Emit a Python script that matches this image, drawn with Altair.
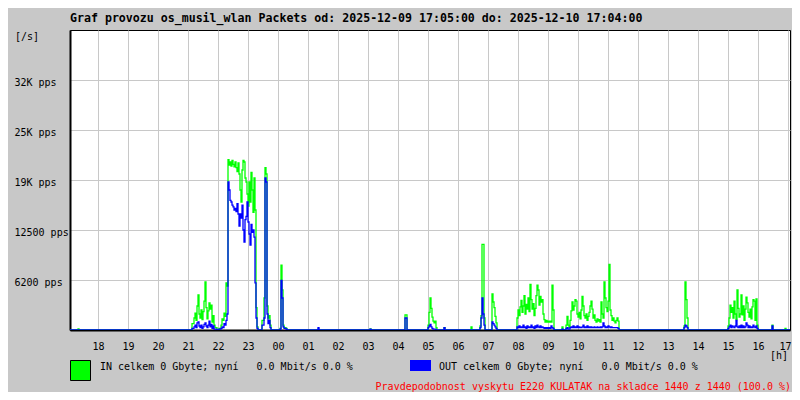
import altair as alt
import pandas as pd

# ---- data (minutes after 17:04, packets per second) ----
T = [0, 16, 18,
     240, 244, 248, 250, 252, 254, 256, 258, 260, 262, 264, 266, 268, 270, 272, 274, 276, 278, 280, 282, 284, 286, 288, 290, 294,
     298, 302, 304, 306, 308, 310, 312, 314,
     316, 318, 320, 322, 324, 326, 328, 330, 332, 334, 336, 338, 340, 342, 344, 346, 348, 350, 352, 354, 356, 358, 360, 362, 364,
     366, 368, 370, 372, 374, 376,
     384, 388, 390, 392, 394, 396, 398, 400, 402,
     420, 422, 424, 426, 428, 432, 434,
     496, 498, 600, 602,
     670, 674,
     716, 718, 720, 722, 724, 726, 728, 730, 732, 734, 748, 750, 802, 804,
     820, 822, 824, 826, 828, 830,
     844, 846, 848, 850, 852, 854,
     894, 896, 898, 900, 902, 904, 906, 908, 910, 912, 914, 916, 918, 920, 922, 924, 926, 928, 930, 932, 934, 936, 938, 940,
     942, 944, 946, 948, 950, 952, 954, 956, 958, 960, 962, 964, 966, 968,
     984, 986,
     992, 994, 996, 998, 1000, 1002, 1004, 1006, 1008, 1010, 1012, 1014, 1016, 1018, 1020, 1022, 1024, 1026, 1028, 1030, 1032,
     1034, 1036, 1038, 1040, 1042, 1044, 1046, 1048, 1050, 1052, 1054, 1056, 1058, 1060, 1062, 1064, 1066, 1068, 1070, 1072,
     1074, 1076, 1078, 1080, 1082, 1084, 1086, 1088, 1090, 1092, 1094, 1096, 1098,
     1228, 1230, 1232, 1234, 1236,
     1316, 1318, 1320, 1322, 1324, 1326, 1328, 1330, 1332, 1334, 1336, 1338, 1340, 1342, 1344, 1346, 1348, 1350, 1352, 1354,
     1356, 1358, 1360, 1362, 1364, 1366, 1368, 1370, 1372, 1374, 1376,
     1404, 1406, 1430, 1432, 1440]

IN = [0, 150, 0,
      0, 800, 1500, 2100, 1200, 3000, 4400, 2000, 1500, 2500, 1300, 2300, 3600, 6000, 2800, 1400, 2400, 3400, 2600, 3100, 1000, 1800, 600, 300, 0,
      200, 600, 1400, 1200, 2100, 1700, 5900, 5500,
      21300, 20600, 21000, 20500, 21200, 20700, 20400, 21000, 20300, 19800, 20900, 19500, 17500, 16000, 20000, 21200, 21000, 19000, 18500, 17000, 15500, 18500, 16000, 19700, 17500,
      14700, 19000, 15000, 2800, 400, 0,
      1200, 4000, 20300, 19500, 3000, 1500, 1800, 600, 0,
      200, 8100, 5000, 600, 300, 200, 0,
      100, 0, 150, 0,
      1900, 0,
      600, 2200, 4000, 2700, 1600, 1100, 900, 1100, 300, 0, 300, 0, 400, 0,
      500, 1800, 10700, 10700, 1500, 0,
      4500, 3500, 2800, 1700, 900, 0,
      1500, 2500, 1800, 2900, 3700, 2200, 3000, 4300, 2000, 3200, 2600, 4000, 2300, 5700, 3800, 2600, 3300, 1800, 2700, 4300, 5600, 5000, 3100, 4200,
      3500, 3800, 2000, 1300, 1000, 1200, 1000, 1100, 1000, 1100, 1000, 5600, 2500, 0,
      400, 0,
      600, 1700, 600, 300, 1200, 2400, 3500, 2500, 3000, 3800, 3600, 2000, 1600, 2200, 1400, 2500, 4200, 3000, 1800, 1500, 2000,
      1200, 1700, 2200, 3000, 3600, 2600, 1500, 1900, 1200, 1000, 1400, 1100, 1300, 1000, 3500, 2000, 1500, 6000, 4000, 2800,
      2300, 3600, 8200, 2500, 1800, 1200, 1500, 1100, 900, 1200, 1500, 1100, 0,
      500, 6000, 3800, 1500, 0,
      500, 1500, 3100, 2200, 2800, 1500, 3600, 2000, 1300, 5000, 2700, 1600, 2000, 4400, 1900, 3000, 1200, 2600, 4100, 3400,
      2200, 1600, 2600, 1400, 2900, 3800, 3600, 1200, 3900, 600, 0,
      600, 0, 200, 0, 0]

OUT = [0, 0, 0,
       0, 200, 400, 600, 300, 900, 1000, 500, 300, 600, 200, 400, 700, 900, 500, 300, 600, 1100, 400, 700, 200, 500, 100, 100, 0,
       100, 200, 400, 300, 800, 600, 1200, 2000,
       18500, 17500, 16200, 16000, 15600, 15400, 15000, 15200, 14800, 15800, 14500, 13000, 14500, 14000, 15600, 12500, 11000, 13800, 14200, 16000, 13500, 12000, 10600, 13200, 12200,
       12500, 11600, 5900, 1500, 200, 0,
       600, 1500, 19000, 18500, 2000, 800, 1200, 300, 0,
       100, 6200, 4000, 400, 200, 100, 0,
       300, 0, 100, 0,
       1500, 0,
       300, 500, 700, 400, 200, 100, 100, 100, 0, 0, 300, 0, 0, 0,
       300, 1500, 4000, 2000, 600, 0,
       1000, 800, 600, 400, 200, 0,
       400, 300, 500, 300, 400, 300, 600, 300, 400, 200, 500, 300, 400, 300, 600, 300, 400, 200, 500, 300, 600, 400, 300, 500,
       300, 400, 300, 200, 300, 200, 300, 200, 300, 200, 500, 300, 200, 0,
       100, 0,
       200, 300, 100, 100, 300, 400, 300, 500, 300, 400, 300, 500, 300, 400, 300, 300, 400, 600, 300, 400, 300,
       500, 300, 400, 300, 400, 300, 300, 400, 300, 300, 400, 300, 300, 400, 300, 400, 900, 500, 300, 400,
       300, 500, 400, 300, 400, 300, 300, 300, 300, 300, 300, 200, 0,
       300, 600, 500, 300, 0,
       200, 400, 600, 300, 500, 400, 300, 500, 1200, 400, 300, 500, 300, 600, 300, 500, 300, 400, 900, 600,
       300, 500, 300, 400, 300, 600, 400, 300, 500, 200, 0,
       500, 0, 0, 0, 0]

hour_ticks = [56 + 60 * k for k in range(24)]
hour_labels = ["18", "19", "20", "21", "22", "23", "00", "01", "02", "03", "04", "05",
               "06", "07", "08", "09", "10", "11", "12", "13", "14", "15", "16", "17"]
y_ticks = [6250, 12500, 18750, 25000, 31250]
y_labels = ["6200 pps", "12500 pps", "19K pps", "25K pps", "32K pps"]

NB = "\u00a0"
title_text = "Graf provozu os_musil_wlan Packets od: 2025-12-09 17:05:00 do: 2025-12-10 17:04:00"
in_text = "IN celkem 0 Gbyte; nyní" + NB * 3 + "0.0 Mbit/s 0.0 %"
out_text = "OUT celkem 0 Gbyte; nyní" + NB * 3 + "0.0 Mbit/s 0.0 %"
red_text = "Pravdepodobnost vyskytu E220 KULATAK na skladce 1440 z 1440 (100.0 %)"

MONO = "DejaVu Sans Mono"

df = pd.concat([
    pd.DataFrame({"t": T, "v": IN, "s": "IN"}),
    pd.DataFrame({"t": T, "v": OUT, "s": "OUT"}),
])

x_label_expr = "%s[round((datum.value - 56) / 60)]" % str(hour_labels)
y_label_expr = "%s[round(datum.value / 6250) - 1]" % str(y_labels)

lines = alt.Chart(df).mark_line(interpolate="step-after", strokeWidth=1.3, clip=True).encode(
    x=alt.X("t:Q", scale=alt.Scale(domain=[0, 1440], nice=False, zero=False),
            axis=alt.Axis(values=hour_ticks, labelExpr=x_label_expr, title=None, grid=True,
                          ticks=False, tickSize=0, labelPadding=11, labelFont=MONO, labelFontSize=10,
                          labelColor="black", domainColor="black", domainWidth=2,
                          gridColor="#c8c8c8", gridWidth=1, labelFlush=5, labelFlushOffset=3)),
    y=alt.Y("v:Q", scale=alt.Scale(domain=[0, 37500], nice=False),
            axis=alt.Axis(values=y_ticks, labelExpr=y_label_expr, title=None, grid=True,
                          ticks=False, tickSize=0, labelPadding=56, labelAlign="left",
                          labelBaseline="middle", labelOffset=2,
                          labelFont=MONO, labelFontSize=10, labelColor="black",
                          domainColor="black", domainWidth=2,
                          gridColor="#c8c8c8", gridWidth=1)),
    color=alt.Color("s:N", scale=alt.Scale(domain=["IN", "OUT"], range=["#00ff00", "#0000ff"]), legend=None),
)

one = pd.DataFrame({"k": [0]})


def txt(text, x, y, align="left", color="black", bold=False, size=10):
    return alt.Chart(one).mark_text(
        text=text, align=align, baseline="middle", font=MONO, fontSize=size,
        fontWeight="bold" if bold else "normal", color=color,
    ).encode(x=alt.value(x), y=alt.value(y))


title = txt(title_text, 0, -11, bold=True, size=11.6)
unit_y = txt("[/s]", -55, 7)
unit_x = txt("[h]", 700, 326)
in_leg = txt(in_text, 30, 337)
out_leg = txt(out_text, 369, 337)
red = txt(red_text, 721, 357, align="right", color="#ff0000")

in_box = alt.Chart(one).mark_rect(fill="#00ff00", stroke="black", strokeWidth=1).encode(
    x=alt.value(0.5), x2=alt.value(20.5), y=alt.value(330.5), y2=alt.value(350.5))
out_box = alt.Chart(one).mark_rect(fill="#0000ff").encode(
    x=alt.value(340), x2=alt.value(361), y=alt.value(330), y2=alt.value(341))

chart = alt.layer(lines, title, unit_y, unit_x, in_leg, out_leg, red, in_box, out_box).properties(
    width=720, height=300,
    autosize=alt.AutoSizeParams(type="none"),
    padding={"left": 62, "top": 22, "right": 2, "bottom": 62},
    background="#c8c8c8",
).configure_view(fill="white", stroke="black", strokeWidth=1)

chart.save("out.html", embed_options={"renderer": "svg", "actions": False})
